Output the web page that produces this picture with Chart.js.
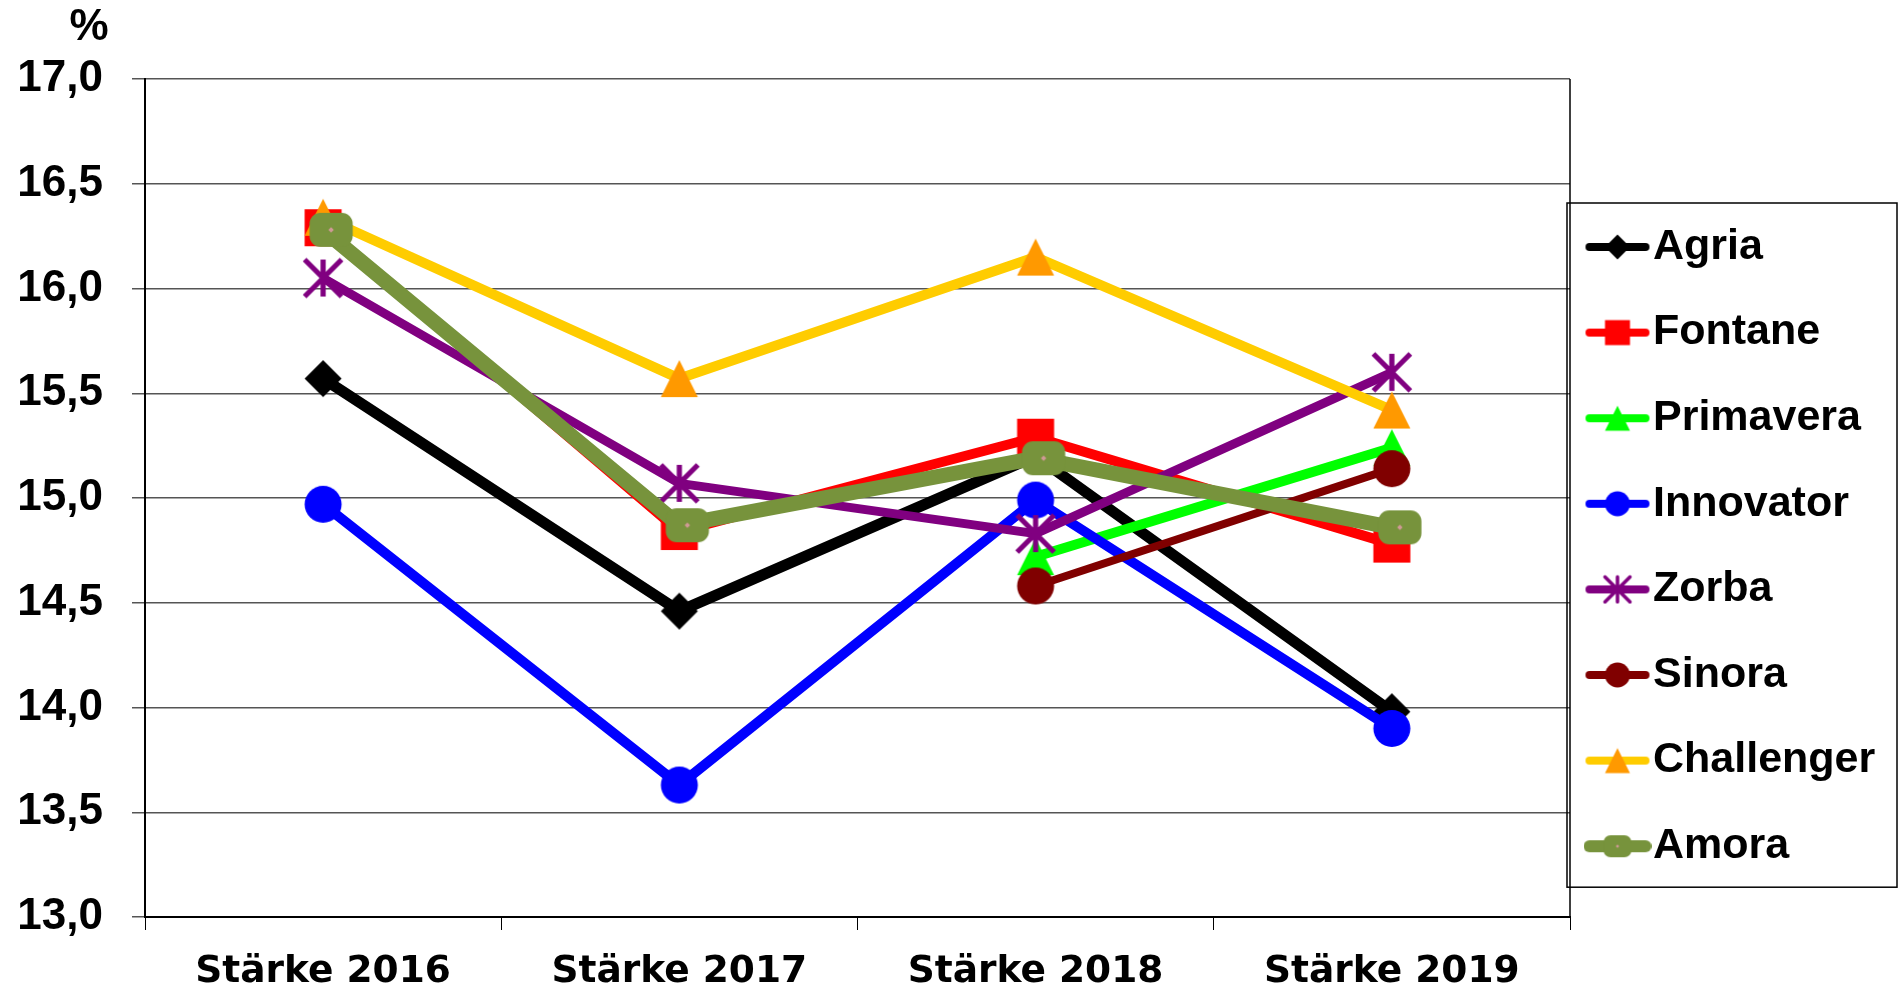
<!DOCTYPE html>
<html>
<head>
<meta charset="utf-8">
<script src="https://cdn.jsdelivr.net/npm/chart.js@4.4.1/dist/chart.umd.min.js"></script>
<style>
  html, body { margin: 0; padding: 0; background: #fff; }
</style>
</head>
<body>
<canvas id="staerke" width="1899" height="994"></canvas>
<script>
// values (Stärkegehalt in %)
var categories = ['Stärke 2016', 'Stärke 2017', 'Stärke 2018', 'Stärke 2019'];
var agria      = [15.57, 14.46, 15.20, 13.98];
var fontane    = [16.29, 14.84, 15.29, 14.78];
var primavera  = [null, null, 14.72, 15.24];
var innovator  = [14.97, 13.63, 14.99, 13.90];
var zorba      = [16.05, 15.07, 14.83, 15.60];
var sinora     = [null, null, 14.58, 15.14];
var challenger = [16.34, 15.57, 16.15, 15.42];
var amora      = [16.28, 14.87, 15.19, 14.86];
var yTicks = [13.0, 13.5, 14.0, 14.5, 15.0, 15.5, 16.0, 16.5, 17.0];

// look of each series: line colour, marker colour, marker kind, line width
var looks = [
    {label: 'Agria',      data: agria,      line: '#000000', mark: '#000000', kind: 'diamond',  width: 11},
    {label: 'Fontane',    data: fontane,    line: '#FF0000', mark: '#FF0000', kind: 'square',   width: 10},
    {label: 'Primavera',  data: primavera,  line: '#00FF00', mark: '#00FF00', kind: 'triangle', width: 10},
    {label: 'Innovator',  data: innovator,  line: '#0000FF', mark: '#0000FF', kind: 'circle',   width: 10},
    {label: 'Zorba',      data: zorba,      line: '#800080', mark: '#800080', kind: 'star',     width: 9},
    {label: 'Sinora',     data: sinora,     line: '#800000', mark: '#800000', kind: 'circle',   width: 8},
    {label: 'Challenger', data: challenger, line: '#FFCC00', mark: '#FF9900', kind: 'triangle', width: 10},
    {label: 'Amora',      data: amora,      line: '#77933C', mark: '#77933C', kind: 'pill',     width: 15}
];

function roundedRect(ctx, x, y, w, h, r) {
    ctx.moveTo(x + r, y);
    ctx.arcTo(x + w, y, x + w, y + h, r);
    ctx.arcTo(x + w, y + h, x, y + h, r);
    ctx.arcTo(x, y + h, x, y, r);
    ctx.arcTo(x, y, x + w, y, r);
    ctx.closePath();
}

// paint one Excel-like marker centred on cx, cy
function paintMarker(ctx, kind, color, cx, cy, s) {
    var h = s / 2;
    ctx.fillStyle = color;
    ctx.strokeStyle = color;
    ctx.beginPath();
    switch (kind) {
        case 'diamond':
            ctx.moveTo(cx, cy - h); ctx.lineTo(cx + h, cy); ctx.lineTo(cx, cy + h); ctx.lineTo(cx - h, cy);
            ctx.closePath(); ctx.fill();
            break;
        case 'square':
            ctx.rect(cx - h, cy - h, s, s); ctx.fill();
            break;
        case 'triangle':
            ctx.moveTo(cx, cy - h); ctx.lineTo(cx + h, cy + h); ctx.lineTo(cx - h, cy + h);
            ctx.closePath(); ctx.fill();
            break;
        case 'circle':
            ctx.arc(cx, cy, h, 0, Math.PI * 2); ctx.fill();
            break;
        case 'star':
            ctx.lineWidth = s * 0.14;
            ctx.moveTo(cx, cy - h); ctx.lineTo(cx, cy + h);
            ctx.moveTo(cx - h, cy - h); ctx.lineTo(cx + h, cy + h);
            ctx.moveTo(cx - h, cy + h); ctx.lineTo(cx + h, cy - h);
            ctx.stroke();
            break;
        case 'pill':
            var w = s * 1.27;
            roundedRect(ctx, cx - w / 2, cy - h, w, s, s * 0.32);
            ctx.fill();
            var d = Math.max(1.5, s * 0.08);
            ctx.fillStyle = '#D09A96';
            ctx.beginPath();
            ctx.moveTo(cx, cy - d); ctx.lineTo(cx + d, cy); ctx.lineTo(cx, cy + d); ctx.lineTo(cx - d, cy);
            ctx.closePath(); ctx.fill();
            break;
    }
}

// marker image used on the chart points
function pointImage(look) {
    var c = document.createElement('canvas');
    var s = look.kind === 'pill' ? 34 : 37;
    var shift = look.kind === 'pill' ? 8 : 0;
    c.width = s * 1.3 + 6 + shift * 2;
    c.height = s + 6;
    paintMarker(c.getContext('2d'), look.kind, look.mark, c.width / 2 + shift, c.height / 2, s);
    return c;
}

// line + marker image used in the legend
function legendImage(look) {
    var c = document.createElement('canvas');
    c.width = 68; c.height = 30;
    var ctx = c.getContext('2d');
    ctx.strokeStyle = look.line;
    ctx.lineWidth = look.kind === 'pill' ? 12 : 8;
    ctx.lineCap = 'round';
    ctx.beginPath(); ctx.moveTo(6, 15); ctx.lineTo(62, 15); ctx.stroke();
    paintMarker(ctx, look.kind, look.mark, 34, 15, look.kind === 'pill' ? 22 : 25);
    return c;
}

var legendIcons = looks.map(legendImage);

var datasets = looks.map(function(l, i) {
    return {
        label: l.label,
        data: l.data,
        borderColor: l.line,
        backgroundColor: l.line,
        borderWidth: l.width,
        borderJoinStyle: 'round',
        tension: 0,
        spanGaps: false,
        pointStyle: pointImage(l),
        pointRadius: 18,
        order: looks.length - i
    };
});

// legend placement and frames, the "%" unit
var framePlugin = {
    id: 'framePlugin',
    afterLayout: function(chart) {
        var lg = chart.legend, area = chart.chartArea, pad = lg.options.labels.padding;
        lg.left = area.right + 33.5 - pad;
        lg.right = lg.left + lg.width;
        lg.top = area.top + 146.5 - pad;
        lg.bottom = lg.top + lg.height;
    },
    afterDraw: function(chart) {
        var ctx = chart.ctx, area = chart.chartArea, lg = chart.legend;
        var pad = lg.options.labels.padding;
        var first = lg.top + pad + 21.5;
        var step = 43 + pad;
        var n = lg.legendItems.length;
        ctx.save();
        ctx.strokeStyle = '#000';
        ctx.lineWidth = 1.5;
        ctx.beginPath();
        ctx.moveTo(area.right, area.top);
        ctx.lineTo(area.right, area.bottom);
        ctx.stroke();
        ctx.strokeRect(area.right - 3, first - 44, chart.width - 2 - (area.right - 3), (n - 1) * step + 85);
        ctx.fillStyle = '#000';
        ctx.font = "bold 44px 'Liberation Sans', Arial, sans-serif";
        ctx.textAlign = 'center';
        ctx.textBaseline = 'middle';
        ctx.fillText('%', area.left - 56, 28);
        ctx.restore();
    }
};

new Chart(document.getElementById('staerke').getContext('2d'), {
    type: 'line',
    data: {labels: categories, datasets: datasets},
    options: {
        responsive: false,
        animation: false,
        events: [],
        layout: {padding: {top: 79, right: 329, bottom: 0, left: 0}},
        plugins: {
            tooltip: {enabled: false},
            legend: {
                position: 'chartArea',
                align: 'start',
                labels: {
                    usePointStyle: true,
                    boxWidth: 28,
                    padding: 42.6,
                    color: '#000',
                    font: {family: "'Liberation Sans', Arial, sans-serif", weight: 'bold', size: 43},
                    generateLabels: function(chart) {
                        return chart.data.datasets.map(function(ds, i) {
                            return {
                                text: ds.label,
                                fillStyle: ds.borderColor,
                                strokeStyle: ds.borderColor,
                                lineWidth: 0,
                                pointStyle: legendIcons[i],
                                hidden: false,
                                datasetIndex: i,
                                fontColor: '#000'
                            };
                        });
                    }
                }
            }
        },
        scales: {
            x: {
                type: 'category',
                offset: true,
                grid: {display: true, drawOnChartArea: false, drawTicks: true, tickLength: 13, offset: true, color: '#000', lineWidth: 1},
                border: {display: true, color: '#000', width: 2},
                ticks: {
                    color: '#000',
                    padding: 20,
                    maxRotation: 0,
                    autoSkip: false,
                    font: {family: "'DejaVu Sans', sans-serif", weight: 'bold', size: 37.5}
                },
                afterFit: function(scale) { scale.height = 77; }
            },
            y: {
                min: 13,
                max: 17,
                grid: {color: '#555', lineWidth: 1.5, tickLength: 13},
                border: {display: true, color: '#000', width: 2},
                ticks: {
                    color: '#000',
                    padding: 29,
                    font: {family: "'Liberation Sans', Arial, sans-serif", weight: 'bold', size: 44},
                    callback: function(v) { return Number(v).toFixed(1).replace('.', ','); }
                },
                afterBuildTicks: function(axis) {
                    axis.ticks = yTicks.map(function(v) { return {value: v}; });
                },
                afterFit: function(scale) { scale.width = 145; }
            }
        }
    },
    plugins: [framePlugin]
});
</script>
</body>
</html>
